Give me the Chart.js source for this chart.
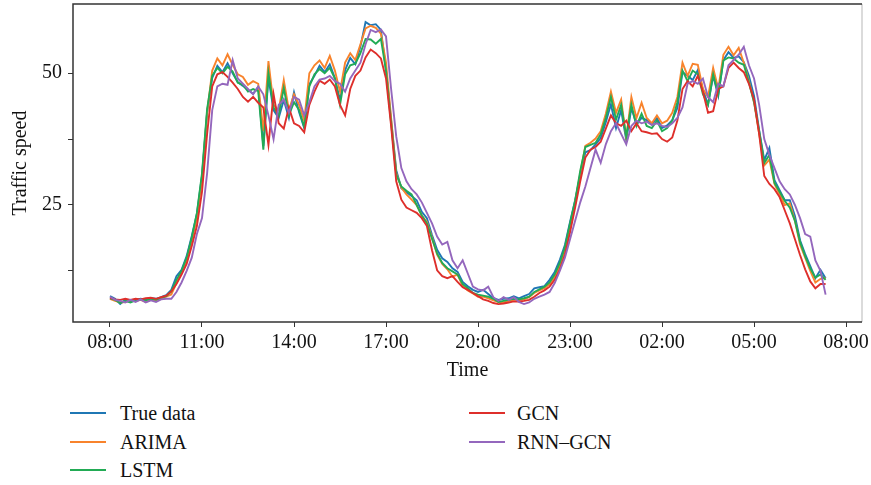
<!DOCTYPE html>
<html>
<head>
<meta charset="utf-8">
<script src="https://cdn.jsdelivr.net/npm/chart.js@4.4.1/dist/chart.umd.min.js"></script>
<style>
  html, body { margin: 0; padding: 0; background: #fff; }
  body { width: 871px; height: 485px; position: relative; overflow: hidden; font-family: "Liberation Serif", "DejaVu Serif", serif; }
  #wrap { position: absolute; left: 0; top: 0; width: 871px; height: 395px; }
  .legend { position: absolute; font-size: 20px; color: #111; }
  .legend .item { position: absolute; white-space: nowrap; height: 24px; line-height: 24px; }
  .legend .swatch { position: absolute; top: 11px; width: 36px; height: 2px; }
  .legend .label { position: absolute; }
</style>
</head>
<body>
<div id="wrap"><canvas id="speed-chart"></canvas></div>
<div class="legend" id="legend"></div>
<script>
// ── Data (10-minute samples starting 08:00) ──────────────
const START_HOUR = 8;
const STEP_MIN = 10;

const TRUE_DATA = [
  7.7, 7.2, 6.2, 7.0, 6.8, 7.0, 7.2, 7.0, 7.3, 7.2, 7.5, 7.9,
  8.9, 11.5, 12.7, 15.3, 19.1, 23.3, 30.5, 42.6, 49.1, 51.4, 50.2, 51.9,
  50.0, 48.3, 47.6, 46.8, 46.1, 47.4, 36.2, 49.1, 43.0, 41.5, 44.9, 41.5,
  46.4, 42.6, 39.6, 47.9, 49.5, 51.4, 50.2, 51.7, 49.1, 44.9, 50.6, 52.9,
  51.7, 55.1, 59.7, 59.1, 59.3, 58.2, 50.6, 41.1, 31.6, 28.2, 27.4, 26.7,
  25.9, 23.7, 22.5, 19.3, 16.5, 14.9, 14.2, 13.0, 12.3, 10.4, 9.6, 8.9,
  8.5, 8.9, 8.1, 7.3, 7.0, 7.2, 7.3, 7.7, 7.3, 7.7, 8.1, 9.2,
  9.4, 9.6, 10.8, 12.3, 14.6, 17.4, 21.8, 25.9, 30.7, 35.0, 35.4, 36.5,
  37.7, 40.7, 44.1, 39.6, 43.0, 37.3, 43.4, 40.3, 41.5, 41.1, 40.3, 41.5,
  39.6, 40.1, 41.1, 43.4, 50.2, 49.5, 48.7, 50.6, 46.8, 44.1, 49.5, 45.7,
  52.5, 54.0, 52.9, 53.2, 52.1, 49.5, 45.7, 39.2, 33.5, 35.8, 29.7, 27.8,
  25.9, 25.9, 22.9, 18.3, 15.7, 13.4, 11.1, 12.7, 11.1
];

const ARIMA = [
  7.2, 6.8, 6.5, 6.6, 6.9, 6.8, 7.0, 6.6, 7.1, 6.9, 7.3, 7.6,
  8.0, 10.2, 12.0, 14.3, 18.2, 22.5, 30.0, 42.5, 50.5, 52.8, 51.5, 53.6,
  51.6, 49.8, 49.3, 47.8, 48.5, 48.0, 39.0, 52.3, 44.0, 43.0, 48.7, 43.0,
  46.0, 44.0, 41.0, 50.0, 51.5, 52.4, 51.0, 53.3, 50.5, 46.5, 52.0, 53.8,
  52.5, 55.5, 58.5, 59.0, 58.6, 57.5, 52.0, 41.5, 31.0, 28.3, 27.0, 26.0,
  25.0, 23.0, 21.8, 18.8, 15.6, 13.8, 12.8, 11.4, 11.8, 9.6, 8.8, 8.2,
  7.6, 7.6, 7.3, 6.9, 6.6, 6.5, 6.8, 7.0, 7.0, 7.1, 7.5, 8.3,
  8.8, 9.2, 10.0, 11.3, 13.5, 16.5, 20.8, 25.5, 31.0, 36.2, 36.8, 37.6,
  39.0, 42.3, 46.5, 42.5, 45.0, 37.8, 45.5, 41.5, 44.4, 41.5, 40.5, 42.0,
  40.5, 41.0, 42.5, 45.5, 52.0, 49.5, 51.8, 51.6, 47.0, 45.5, 51.0, 47.0,
  53.5, 55.0, 53.4, 54.8, 52.0, 48.5, 44.5, 38.5, 32.5, 33.6, 29.0, 27.0,
  25.0, 25.3, 22.0, 17.5, 15.0, 12.5, 10.3, 11.0, 11.2
];

const LSTM = [
  7.3, 7.0, 6.4, 6.8, 6.5, 6.9, 7.1, 6.9, 7.2, 7.0, 7.4, 7.7,
  8.6, 10.8, 12.5, 15.0, 18.8, 23.5, 31.0, 43.2, 49.5, 51.0, 50.0, 51.2,
  50.3, 48.2, 47.8, 46.5, 47.0, 46.6, 35.5, 50.0, 43.5, 42.0, 47.2, 42.0,
  44.5, 43.0, 39.8, 47.5, 49.8, 50.8, 50.0, 51.0, 49.0, 44.0, 49.8, 51.5,
  51.8, 53.8, 56.5, 56.4, 55.6, 56.5, 50.5, 40.5, 30.8, 28.5, 27.7, 27.0,
  25.0, 23.0, 21.5, 18.6, 15.8, 14.0, 13.0, 12.4, 11.8, 10.0, 9.2, 8.3,
  8.0, 7.8, 7.6, 7.2, 6.6, 6.8, 7.0, 7.2, 7.1, 7.3, 7.6, 8.5,
  9.0, 9.5, 10.3, 11.8, 14.0, 17.0, 21.5, 25.8, 31.5, 36.0, 36.4, 36.8,
  38.4, 41.5, 45.5, 41.2, 44.0, 38.0, 44.0, 40.0, 42.3, 40.0, 39.6, 41.0,
  39.0, 39.6, 41.0, 44.5, 50.5, 48.5, 50.5, 49.8, 46.0, 44.0, 49.8, 46.0,
  52.4, 53.0, 52.8, 52.0, 51.6, 48.2, 44.5, 39.0, 33.0, 34.5, 29.2, 27.5,
  25.8, 24.5, 22.0, 18.0, 15.3, 13.0, 11.2, 11.8, 10.8
];

const GCN = [
  7.4, 7.1, 7.0, 7.2, 7.0, 7.2, 7.1, 7.3, 7.4, 7.2, 7.5, 7.8,
  8.6, 10.0, 11.8, 13.8, 17.2, 21.0, 27.5, 38.5, 47.5, 49.8, 50.2, 49.3,
  48.2, 47.0, 45.5, 44.6, 45.5, 44.4, 43.5, 36.4, 46.0, 40.5, 39.5, 43.5,
  40.5, 40.0, 38.8, 44.0, 46.5, 48.6, 48.0, 48.8, 47.5, 44.0, 42.0, 47.0,
  49.5, 50.5, 53.0, 54.5, 53.8, 52.8, 49.0, 40.0, 29.5, 26.0, 24.5, 24.0,
  23.5, 22.5, 21.0, 16.4, 12.6, 11.5, 11.1, 11.5, 10.4, 9.4, 8.9, 8.3,
  7.7, 7.1, 6.8, 6.4, 6.2, 6.3, 6.5, 6.7, 6.7, 6.8, 7.0, 7.6,
  8.3, 8.8, 9.5, 10.8, 12.8, 15.6, 19.8, 24.5, 29.5, 34.0, 35.5, 36.0,
  37.0, 39.5, 42.0, 40.5, 40.0, 41.0, 39.0, 40.5, 39.0, 38.8, 38.5, 38.6,
  37.5, 37.0, 37.8, 41.0, 47.0, 48.5, 47.5, 49.5, 46.5, 42.5, 42.8, 47.0,
  47.5, 51.0, 52.0, 51.0, 50.2, 48.0, 45.0, 38.5, 30.5, 29.0, 28.0, 26.5,
  24.0, 21.5, 18.5, 15.5, 12.8, 10.5, 9.2, 10.0, 10.0
];

const RNN_GCN = [
  7.6, 7.0, 6.8, 6.5, 7.0, 6.6, 7.1, 6.5, 6.9, 6.6, 7.1, 7.2,
  7.2, 8.5, 10.3, 12.5, 15.0, 19.5, 22.5, 31.0, 43.0, 47.5, 48.0, 47.8,
  52.5, 49.0, 48.0, 47.0, 46.0, 47.5, 46.0, 42.0, 37.5, 44.0, 45.0, 42.5,
  45.5, 45.0, 42.0, 44.5, 47.5, 48.8, 49.0, 49.5, 48.5, 48.0, 46.5, 49.0,
  50.5, 52.0, 55.5, 58.2, 57.8, 58.3, 57.0, 47.0, 38.0, 32.0, 29.5, 28.0,
  27.0, 25.5, 23.5, 21.5, 19.0, 17.5, 18.0, 14.5, 13.0, 14.5, 12.0, 9.5,
  9.0, 8.8, 9.5, 7.5, 6.8, 7.5, 7.0, 7.5, 6.6, 6.2, 6.5, 7.2,
  7.6, 8.0, 8.5, 10.2, 12.5, 15.0, 18.5, 22.0, 25.5, 28.5, 32.0, 35.5,
  33.0, 36.5, 39.0, 40.5, 38.5, 36.5, 40.0, 41.0, 40.5, 40.8, 40.2, 40.5,
  40.0, 39.8, 40.5, 41.5, 43.5, 48.0, 48.5, 48.0, 49.0, 45.5, 44.5, 48.0,
  47.5, 51.5, 52.5, 53.5, 55.0, 51.5, 49.0, 44.0, 37.5, 34.5, 32.0, 29.5,
  28.0, 27.0, 25.0, 22.5, 19.5, 19.0, 14.5, 12.5, 8.0
];

const X_TICK_HOURS = [8, 11, 14, 17, 20, 23, 26, 29, 32];
const X_TICK_LABELS = ["08:00", "11:00", "14:00", "17:00", "20:00", "23:00", "02:00", "05:00", "08:00"];
const Y_TICK_VALUES = [12.5, 25, 37.5, 50];
const Y_TICK_LABELS = ["", "25", "", "50"];

const SERIES = [
  { label: "True data", data: TRUE_DATA, color: "#1f77b4" },
  { label: "ARIMA", data: ARIMA, color: "#f8832c" },
  { label: "LSTM", data: LSTM, color: "#22ab55" },
  { label: "GCN", data: GCN, color: "#de2f2b" },
  { label: "RNN\u2013GCN", data: RNN_GCN, color: "#9467bd" }
];

// ── Helpers ──────────────────────────────────────────────
const toPoints = (arr) => arr.map((v, i) => ({ x: START_HOUR + (i * STEP_MIN) / 60, y: v }));
const FONT = { family: '"Liberation Serif", "DejaVu Serif", serif', size: 20 };
const AXIS_COLOR = "#333";

// frame: dark top/left/bottom spines, faint right one
const framePlugin = {
  id: "frame",
  afterDraw(chart) {
    const { ctx, chartArea: a } = chart;
    ctx.save();
    ctx.lineWidth = 1.5;
    ctx.strokeStyle = "#cfcfcf";
    ctx.beginPath();
    ctx.moveTo(a.right, a.top);
    ctx.lineTo(a.right, a.bottom);
    ctx.stroke();
    ctx.strokeStyle = AXIS_COLOR;
    ctx.beginPath();
    ctx.moveTo(a.right, a.top);
    ctx.lineTo(a.left, a.top);
    ctx.lineTo(a.left, a.bottom);
    ctx.lineTo(a.right, a.bottom);
    ctx.stroke();
    ctx.restore();
  }
};

// ── Chart ────────────────────────────────────────────────
function renderSpeedChart() {
  const canvas = document.getElementById("speed-chart");
  canvas.width = 871;
  canvas.height = 395;

  new Chart(canvas, {
    type: "line",
    data: {
      datasets: SERIES.map((s, i) => ({
        label: s.label,
        data: toPoints(s.data),
        borderColor: s.color,
        backgroundColor: s.color,
        borderWidth: 1.9,
        pointRadius: 0,
        tension: 0,
        order: SERIES.length - i
      }))
    },
    options: {
      responsive: false,
      animation: false,
      layout: { padding: { top: 4, right: 9, left: 0, bottom: 0 } },
      plugins: { legend: { display: false }, tooltip: { enabled: false } },
      scales: {
        x: {
          type: "linear",
          min: 6.794,
          max: 32.52,
          afterBuildTicks: (scale) => { scale.ticks = X_TICK_HOURS.map((v) => ({ value: v })); },
          afterFit: (scale) => {
            scale.height = 73;
            scale.paddingLeft = 0;
            scale.paddingRight = 0;
          },
          ticks: {
            font: FONT,
            color: "#111",
            padding: 4,
            maxRotation: 0,
            autoSkip: false,
            callback: (v) => X_TICK_LABELS[X_TICK_HOURS.indexOf(v)]
          },
          grid: { drawOnChartArea: false, tickLength: 5, color: AXIS_COLOR, lineWidth: 1 },
          border: { display: false },
          title: { display: true, text: "Time", font: FONT, color: "#111", padding: { top: 0, bottom: 12 } }
        },
        y: {
          min: 2.8,
          max: 63.13,
          afterBuildTicks: (scale) => { scale.ticks = Y_TICK_VALUES.map((v) => ({ value: v })); },
          afterFit: (scale) => {
            scale.width = 73;
            scale.paddingTop = 0;
            scale.paddingBottom = 0;
          },
          ticks: {
            font: FONT,
            color: "#111",
            padding: 6,
            autoSkip: false,
            callback: (v) => Y_TICK_LABELS[Y_TICK_VALUES.indexOf(v)]
          },
          grid: { drawOnChartArea: false, tickLength: 5, color: AXIS_COLOR, lineWidth: 1 },
          border: { display: false },
          title: { display: true, text: "Traffic speed", font: FONT, color: "#111", padding: { top: 9, bottom: 0 } }
        }
      }
    },
    plugins: [framePlugin]
  });
}

// ── Legend (two columns, filled column-first) ────────────
function renderLegend() {
  const box = document.getElementById("legend");
  const COLS = [70, 469];
  const ROWS = [401, 429.5, 458];
  SERIES.forEach((s, i) => {
    const col = i < 3 ? 0 : 1;
    const row = i < 3 ? i : i - 3;
    const item = document.createElement("div");
    item.className = "item";
    item.style.left = COLS[col] + "px";
    item.style.top = ROWS[row] + "px";
    const sw = document.createElement("div");
    sw.className = "swatch";
    sw.style.left = "0px";
    sw.style.background = s.color;
    const lb = document.createElement("div");
    lb.className = "label";
    lb.style.left = (col === 0 ? 50 : 48) + "px";
    lb.textContent = s.label;
    item.appendChild(sw);
    item.appendChild(lb);
    box.appendChild(item);
  });
}

renderSpeedChart();
renderLegend();
</script>
</body>
</html>
